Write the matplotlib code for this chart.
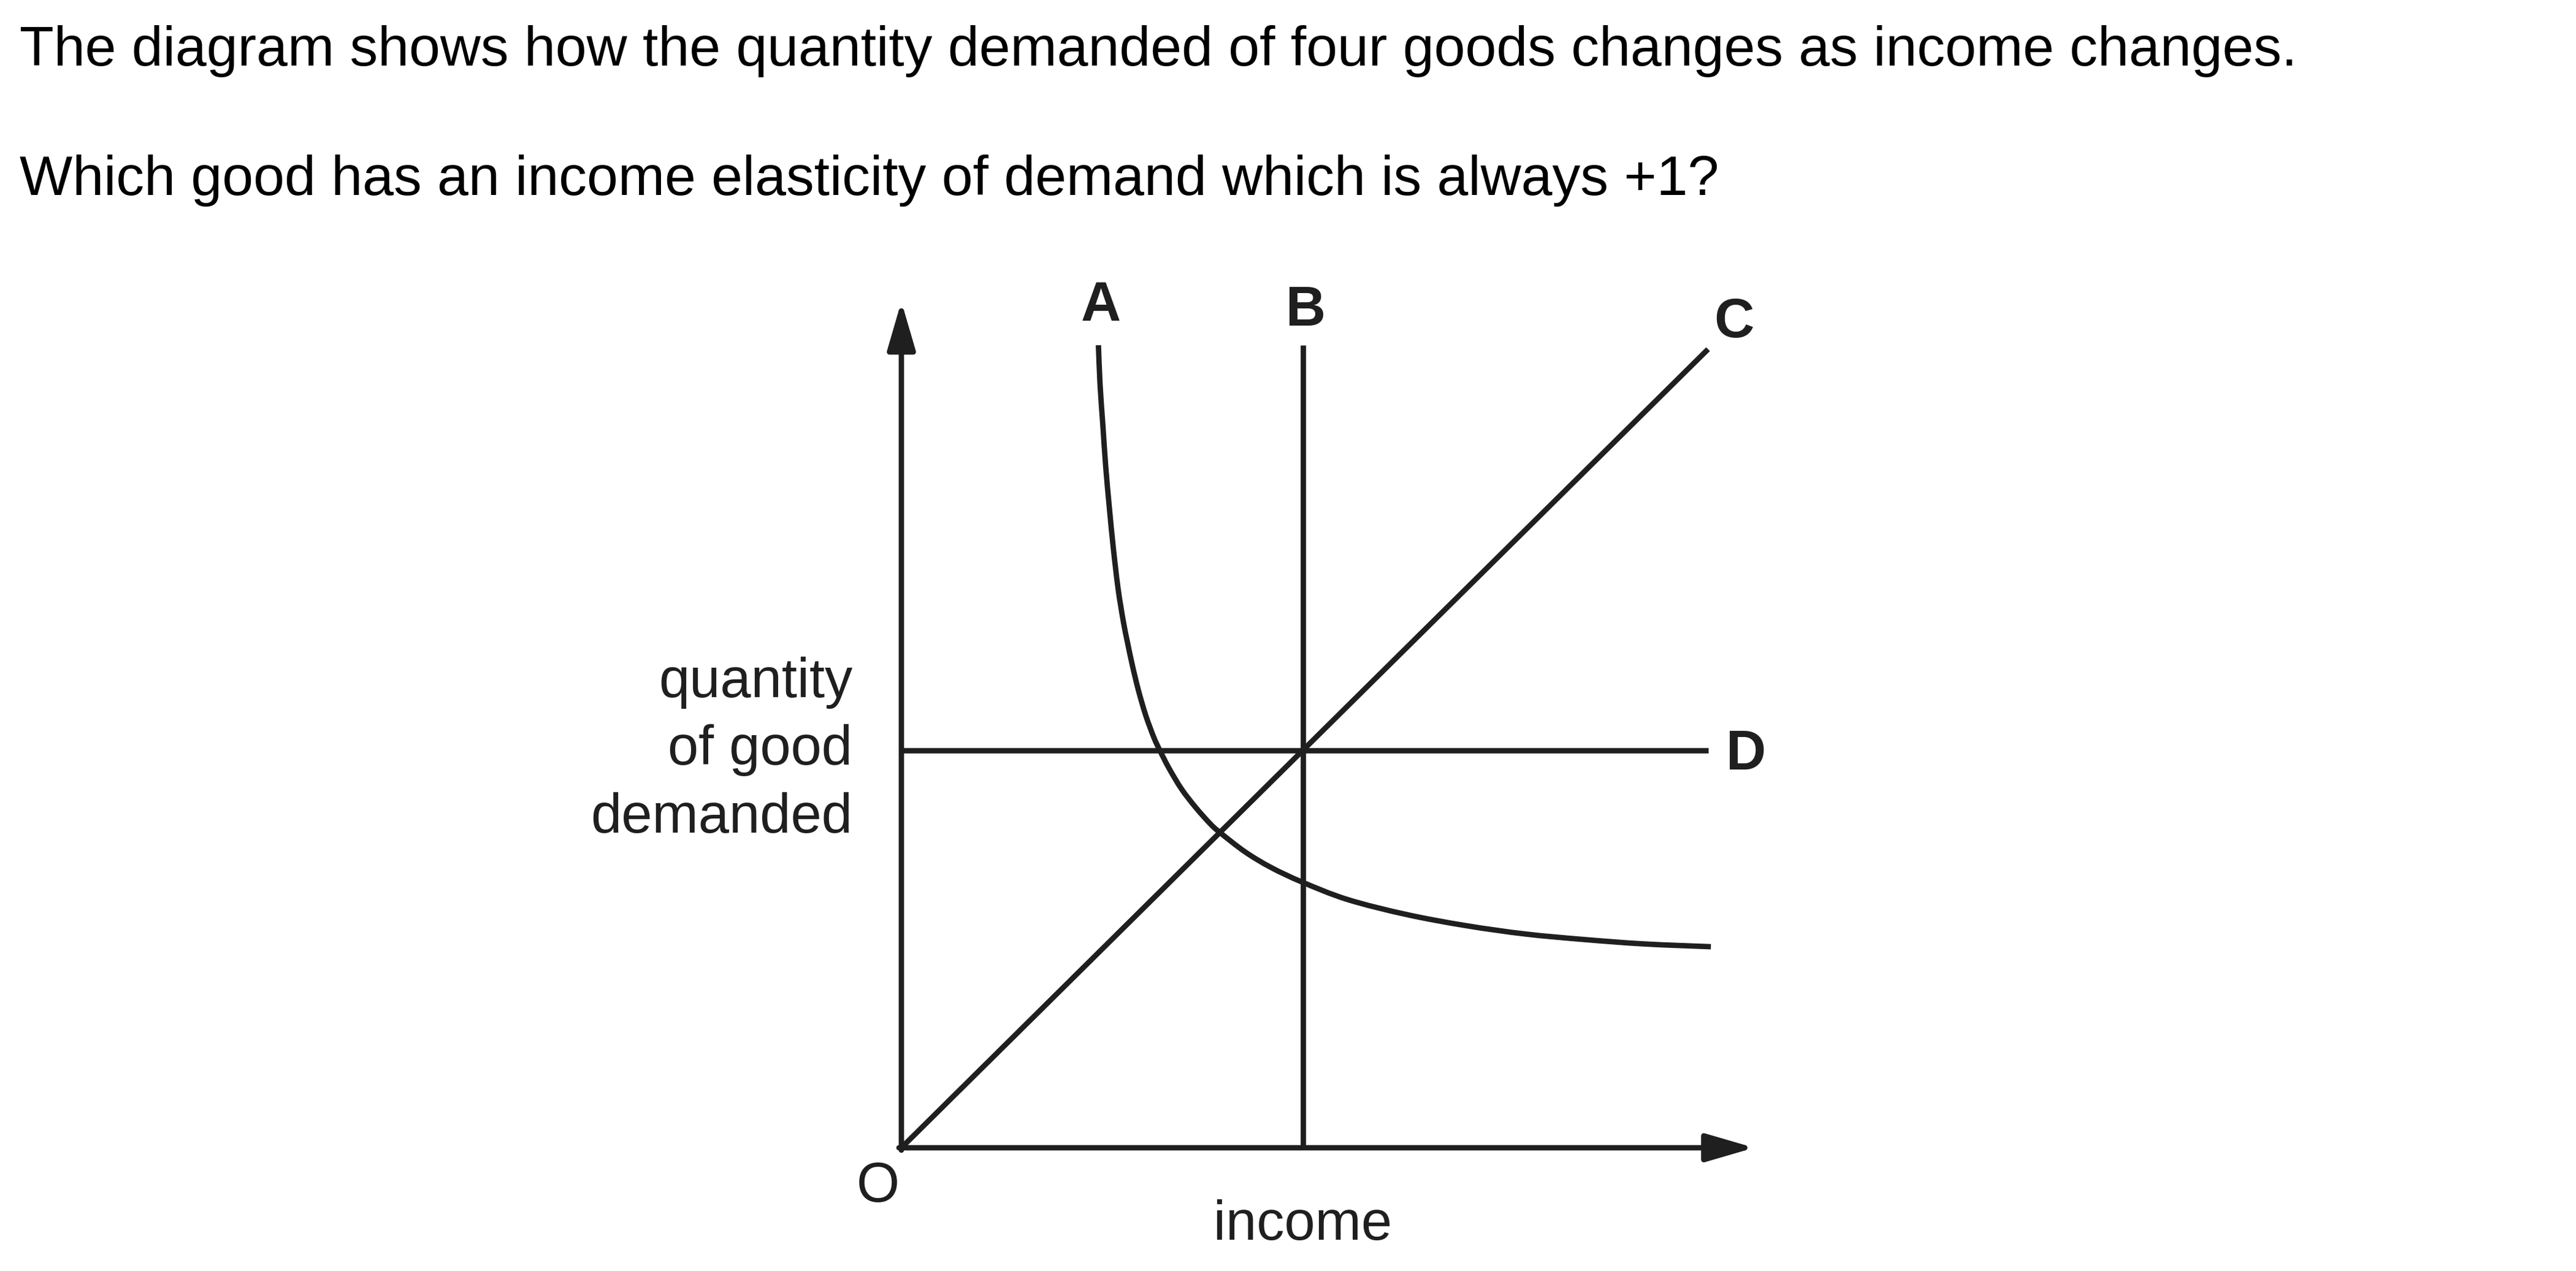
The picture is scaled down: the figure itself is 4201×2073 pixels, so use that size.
import matplotlib
matplotlib.use("Agg")
import matplotlib.pyplot as plt
from matplotlib.path import Path
from matplotlib.patches import PathPatch

plt.rcParams['font.family'] = ['Liberation Sans', 'DejaVu Sans']

# question text
question = ["The diagram shows how the quantity demanded of four goods changes as income changes.",
            "Which good has an income elasticity of demand which is always +1?"]

# good A (income, quantity), units where B and D cross at (1, 1)
a_income = [0.491, 0.495, 0.502, 0.509, 0.518, 0.528, 0.540, 0.553, 0.563, 0.576,
            0.591, 0.609, 0.629, 0.644, 0.667, 0.698, 0.733, 0.769, 0.792, 0.856,
            0.922, 0.998, 1.111, 1.259, 1.407, 1.555, 1.703, 1.851, 2.017]
a_qty = [2.02, 1.922, 1.819, 1.716, 1.613, 1.510, 1.407, 1.325, 1.274, 1.212,
         1.150, 1.088, 1.033, 1.000, 0.955, 0.903, 0.857, 0.816, 0.795, 0.745,
         0.705, 0.669, 0.625, 0.587, 0.559, 0.538, 0.524, 0.513, 0.506]
# good B: vertical at income 1
b_income = [1.0, 1.0]
b_qty = [0.0, 2.02]
# good C: straight line through origin
c_income = [0.0, 2.01]
c_qty = [0.0, 2.01]
# good D: horizontal at quantity 1
d_income = [0.0, 2.01]
d_qty = [1.0, 1.0]

ink = '#1f1f1f'
lw = 6.3


def smooth_path(xs, ys):
    # catmull-rom through the read points, drawn as cubic bezier segments
    pts = list(zip(xs, ys))
    verts = [pts[0]]
    codes = [Path.MOVETO]
    for i in range(len(pts) - 1):
        p0 = pts[i - 1] if i > 0 else pts[i]
        p1 = pts[i]
        p2 = pts[i + 1]
        p3 = pts[i + 2] if i + 2 < len(pts) else pts[i + 1]
        c1 = (p1[0] + (p2[0] - p0[0]) / 6, p1[1] + (p2[1] - p0[1]) / 6)
        c2 = (p2[0] - (p3[0] - p1[0]) / 6, p2[1] - (p3[1] - p1[1]) / 6)
        verts += [c1, c2, p2]
        codes += [Path.CURVE4] * 3
    return Path(verts, codes)


fig = plt.figure(figsize=(42.01, 20.73), dpi=100)
fig.patch.set_facecolor('white')

fig.text(32 / 4201, 1 - 107 / 2073, question[0], fontsize=65.8, color='black',
         ha='left', va='baseline')
fig.text(32 / 4201, 1 - 318 / 2073, question[1], fontsize=65.8, color='black',
         ha='left', va='baseline')

ax = fig.add_axes([0, 0, 1, 1])
ux, uy = 654.5, 648.0
ax.set_xlim(-1470 / ux, (4201 - 1470) / ux)
ax.set_ylim(-(2073 - 1872) / uy, 1872 / uy)
ax.axis('off')

ax.add_patch(PathPatch(smooth_path(a_income, a_qty), facecolor='none', edgecolor=ink,
                       lw=lw, capstyle='butt', joinstyle='round'))
for xs, ys in [(b_income, b_qty), (c_income, c_qty), (d_income, d_qty)]:
    ax.plot(xs, ys, color=ink, lw=lw, solid_capstyle='butt')

# axes with arrow heads
arrow = dict(arrowstyle='-|>,head_length=0.48,head_width=0.14', color=ink, lw=lw,
             shrinkA=0, shrinkB=0, mutation_scale=100)
ax.annotate('', xy=(2.125, 0), xytext=(-0.006, 0), arrowprops=arrow)
ax.annotate('', xy=(0, 2.13), xytext=(0, -0.006), arrowprops=arrow)

lab = dict(fontsize=65, color=ink, fontweight='bold')
ax.text(0.497, 2.082, 'A', ha='center', va='baseline', **lab)
ax.text(1.008, 2.069, 'B', ha='center', va='baseline', **lab)
ax.text(2.075, 2.040, 'C', ha='center', va='baseline', **lab)
ax.text(2.104, 0.988, 'D', ha='center', va='center', **lab)

txt = dict(fontsize=65, color=ink)
ax.text(-0.058, -0.099, 'O', ha='center', va='center', **txt)
ax.text(1.0, -0.231, 'income', ha='center', va='baseline', **txt)
for line, base in zip(['quantity', 'of good', 'demanded'], [1137, 1247, 1358]):
    ax.text(-0.122, (1872 - base) / uy, line, ha='right', va='baseline', **txt)

fig.savefig('out.png', dpi=100, facecolor='white')
